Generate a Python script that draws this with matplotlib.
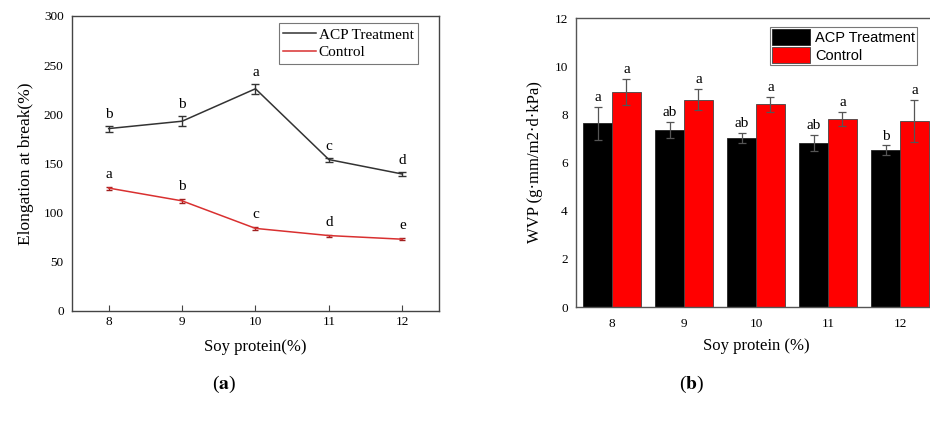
import matplotlib
matplotlib.use("Agg")
import matplotlib.pyplot as plt
from matplotlib.lines import Line2D
import numpy as np

plt.rcParams['font.family'] = ['Liberation Serif', 'DejaVu Serif']
plt.rcParams['mathtext.fontset'] = 'stix'

# panel (a): elongation at break
soy = [8, 9, 10, 11, 12]
acp_elong = [185.5, 193, 226, 154, 139.3]
acp_elong_err = [3, 5, 5, 2, 2]
ctrl_elong = [125, 112, 84, 76.7, 73]
ctrl_elong_err = [1.5, 2, 1.5, 1, 1]
acp_elong_letters = ['b', 'b', 'a', 'c', 'd']
ctrl_elong_letters = ['a', 'b', 'c', 'd', 'e']

# panel (b): WVP
acp_wvp = [7.63, 7.34, 7.0, 6.82, 6.52]
acp_wvp_err = [0.69, 0.33, 0.21, 0.34, 0.19]
ctrl_wvp = [8.92, 8.61, 8.42, 7.82, 7.74]
ctrl_wvp_err = [0.55, 0.43, 0.32, 0.29, 0.87]
acp_wvp_letters = ['a', 'ab', 'ab', 'ab', 'b']
ctrl_wvp_letters = ['a', 'a', 'a', 'a', 'a']

fig = plt.figure(figsize=(9.3, 4.23), dpi=100)

# ---- (a) ----
ax1 = fig.add_axes([0.0774, 0.2648, 0.3946, 0.6974])
acp_col = '#333333'
ctrl_col = '#d93030'
ax1.errorbar(soy, acp_elong, yerr=acp_elong_err, color=acp_col, lw=1.1,
             capsize=3, elinewidth=1)
ax1.errorbar(soy, ctrl_elong, yerr=ctrl_elong_err, color=ctrl_col, lw=1.1,
             capsize=2, elinewidth=1, ecolor='#a02020')
for x, y, e, t in zip(soy, acp_elong, acp_elong_err, acp_elong_letters):
    ax1.text(x, y + e + 5, t, ha='center', va='bottom', fontsize=11)
for x, y, e, t in zip(soy, ctrl_elong, ctrl_elong_err, ctrl_elong_letters):
    ax1.text(x, y + e + 6, t, ha='center', va='bottom', fontsize=11)
ax1.set_xlim(7.5, 12.5)
ax1.set_ylim(0, 300)
ax1.set_xticks(soy)
ax1.set_yticks(range(0, 301, 50))
ax1.tick_params(axis='x', direction='in', length=4, labelsize=9.5, color='#444444')
ax1.tick_params(axis='y', length=0, labelsize=9.5, pad=6)
for s in ax1.spines.values():
    s.set_color('#444444')
    s.set_linewidth(1)
ax1.set_xlabel('Soy protein(%)', fontsize=12, labelpad=8)
ax1.set_ylabel('Elongation at break(%)', fontsize=12.5, labelpad=7)
handles = [Line2D([], [], color=acp_col, lw=1.1), Line2D([], [], color=ctrl_col, lw=1.1)]
leg1 = ax1.legend(handles, ['ACP Treatment', 'Control'], loc='upper right',
                  bbox_to_anchor=(0.943, 0.975), fontsize=11,
                  frameon=True, fancybox=False, handlelength=2.1, handletextpad=0.2,
                  borderpad=0.3, labelspacing=0.25, borderaxespad=0)
leg1.get_frame().set_edgecolor('#555555')
leg1.get_frame().set_linewidth(0.8)

# ---- (b) ----
ax2 = fig.add_axes([0.6194, 0.2742, 0.3871, 0.6832])
x = np.array(soy)
w = 0.4
ax2.bar(x - w / 2, acp_wvp, w, color='black', edgecolor='#222222', lw=0.6,
        label='ACP Treatment')
ax2.bar(x + w / 2, ctrl_wvp, w, color='#ff0000', edgecolor='#444444', lw=0.6,
        label='Control')
ax2.errorbar(x - w / 2, acp_wvp, yerr=acp_wvp_err, fmt='none', ecolor='#555555',
             elinewidth=0.9, capsize=3, capthick=0.9)
ax2.errorbar(x + w / 2, ctrl_wvp, yerr=ctrl_wvp_err, fmt='none', ecolor='#555555',
             elinewidth=0.9, capsize=3, capthick=0.9)
for xi, y, e, t in zip(x - w / 2, acp_wvp, acp_wvp_err, acp_wvp_letters):
    ax2.text(xi, y + e + 0.12, t, ha='center', va='bottom', fontsize=11)
for xi, y, e, t in zip(x + w / 2, ctrl_wvp, ctrl_wvp_err, ctrl_wvp_letters):
    ax2.text(xi, y + e + 0.12, t, ha='center', va='bottom', fontsize=11)
ax2.set_xlim(7.5, 12.5)
ax2.set_ylim(0, 12)
ax2.set_xticks(soy)
ax2.set_yticks(range(0, 13, 2))
ax2.tick_params(axis='x', length=0, labelsize=9.5, pad=8)
ax2.tick_params(axis='y', length=0, labelsize=9.5, pad=6)
for s in ax2.spines.values():
    s.set_color('#555555')
    s.set_linewidth(1)
ax2.set_xlabel('Soy protein (%)', fontsize=12, labelpad=6)
ax2.set_ylabel('WVP (g·mm/m2·d·kPa)', fontsize=12, labelpad=8)
leg2 = ax2.legend(loc='upper right', bbox_to_anchor=(0.947, 0.97),
                  prop={'family': 'Liberation Sans', 'size': 10.5},
                  frameon=True, fancybox=False, handlelength=2.6, handleheight=1.3,
                  handletextpad=0.3, borderpad=0.15, labelspacing=0.15, borderaxespad=0)
leg2.get_frame().set_edgecolor('#555555')
leg2.get_frame().set_linewidth(0.8)

# panel captions
fig.text(0.241, 0.09, r'($\mathbf{a}$)', ha='center', va='center', fontsize=14)
fig.text(0.744, 0.09, r'($\mathbf{b}$)', ha='center', va='center', fontsize=14)

fig.savefig('out.png', dpi=100)
